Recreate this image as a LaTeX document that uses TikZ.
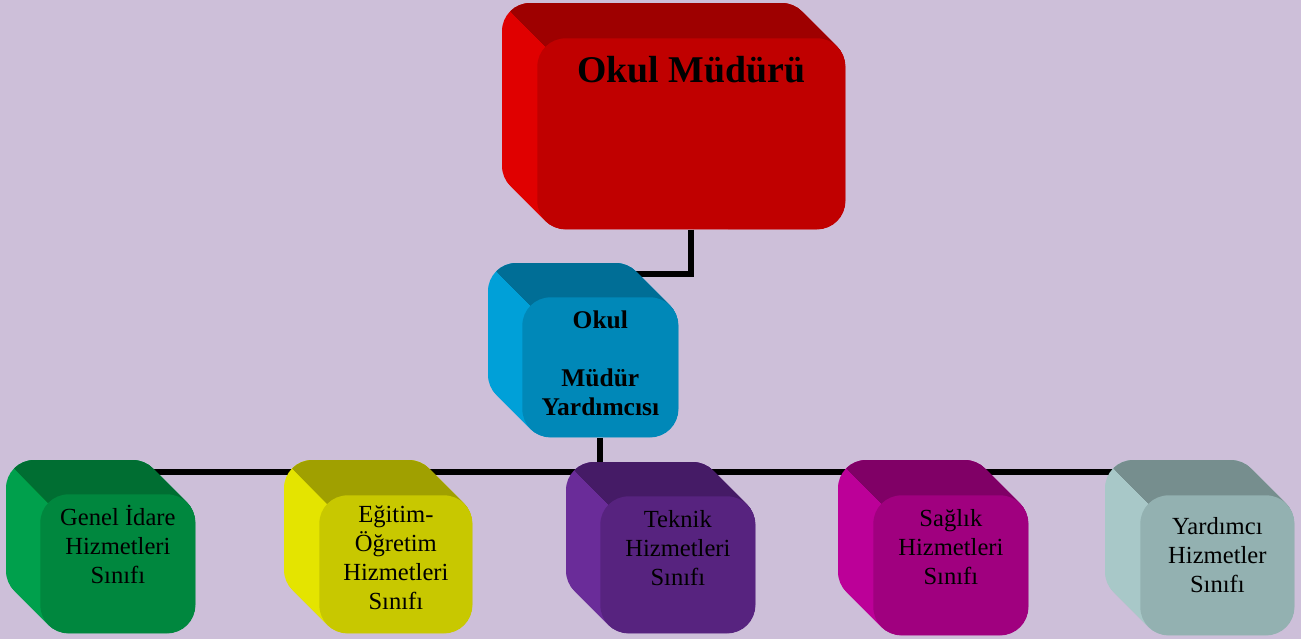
\documentclass[tikz,border=0pt]{standalone}
\usepackage{fontspec}
\setmainfont{Liberation Serif}
\usepackage{xcolor}
\usepackage{tikz}

\definecolor{zemin}{HTML}{CDBFD9}
\definecolor{kirmiziacik}{HTML}{E00000}
\definecolor{kirmizikoyu}{HTML}{9E0000}
\definecolor{kirmizion}{HTML}{C00000}
\definecolor{maviacik}{HTML}{00A0D8}
\definecolor{mavikoyu}{HTML}{006E96}
\definecolor{mavion}{HTML}{0088B8}
\definecolor{yesilacik}{HTML}{00A04C}
\definecolor{yesilkoyu}{HTML}{006E32}
\definecolor{yesilon}{HTML}{00873E}
\definecolor{sariacik}{HTML}{E4E400}
\definecolor{sarikoyu}{HTML}{A0A000}
\definecolor{sarion}{HTML}{C8C800}
\definecolor{moracik}{HTML}{6A2C99}
\definecolor{morkoyu}{HTML}{451B66}
\definecolor{moron}{HTML}{57237F}
\definecolor{pembeacik}{HTML}{BC0098}
\definecolor{pembekoyu}{HTML}{800066}
\definecolor{pembeon}{HTML}{A0007F}
\definecolor{griacik}{HTML}{A8C8C8}
\definecolor{grikoyu}{HTML}{768E8E}
\definecolor{grion}{HTML}{93B1B1}

\pgfdeclarelayer{arka}
\pgfdeclarelayer{hatlar}
\pgfsetlayers{arka,hatlar,main}

\tikzset{
  yuz/.style={rounded corners=16pt, inner sep=0pt},
  yazi/.style={align=center, inner sep=0pt, text=black},
  altyazi/.style={yazi, font=\fontsize{14}{16.5}\selectfont, anchor=north},
  baglanti/.style={line width=3.4pt, black},
}

% #1 ad, #2 #3 sol ust, #4 #5 sag alt, #6 derinlik, #7 renk
\newcommand{\kutu}[7]{%
  \foreach \k in {0,...,#6}
    \fill[#7acik, rounded corners=16pt] (#2+\k,#3+\k) rectangle (#4-#6+\k,#5-#6+\k);
  \begin{scope}
    \clip (#2-50,#3-50) -- (#4+50,#3-50) -- (#4+50,#3+#4-#2+50) -- cycle;
    \foreach \k in {0,...,#6}
      \fill[#7koyu, rounded corners=16pt] (#2+\k,#3+\k) rectangle (#4-#6+\k,#5-#6+\k);
  \end{scope}
  \node[yuz, fill=#7on, anchor=north west,
    minimum width={(#4-#2-#6)*0.02cm}, minimum height={(#5-#3-#6)*0.02cm}]
    (#1) at (#2+#6,#3+#6) {};
}

\begin{document}
\begin{tikzpicture}[x=0.02cm, y=-0.02cm]
\useasboundingbox (0,0) rectangle (1301,639);

\begin{pgfonlayer}{arka}
\fill[zemin] (0,0) rectangle (1301,639);
\end{pgfonlayer}

\kutu{mudur}{502}{3}{845}{229}{35}{kirmizi}
\node[yazi, font=\bfseries\fontsize{21.5}{25}\selectfont, anchor=base] (mudur-y)
  at ([yshift=-25.6pt]mudur.north) {Okul Müdürü};

\kutu{yardimci}{488}{263}{678}{437}{34}{mavi}
\node[yazi, font=\bfseries\fontsize{14.5}{16.5}\selectfont, anchor=north] (yardimci-y)
  at ([yshift=-7.4pt]yardimci.north) {Okul\\[16.5pt]Müdür\\Yardımcısı};

\kutu{genel}{6}{460}{195}{633}{34}{yesil}
\node[altyazi] (genel-y) at ([yshift=-6.3pt]genel.north) {Genel İdare\\Hizmetleri\\Sınıfı};

\kutu{egitim}{284}{460}{472}{633}{35}{sari}
\node[altyazi] (egitim-y) at ([yshift=-5.7pt]egitim.north) {Eğitim-\\Öğretim\\Hizmetleri\\Sınıfı};

\kutu{teknik}{566}{462}{755}{633}{34}{mor}
\node[altyazi] (teknik-y) at ([yshift=-8pt]teknik.north) {Teknik\\Hizmetleri\\Sınıfı};

\kutu{saglik}{838}{460}{1028}{635}{35}{pembe}
\node[altyazi] (saglik-y) at ([yshift=-8pt]saglik.north) {Sağlık\\Hizmetleri\\Sınıfı};

\kutu{yrdhiz}{1105}{460}{1294}{635}{35}{gri}
\node[altyazi] (yrdhiz-y) at ([yshift=-12.5pt]yrdhiz.north) {Yardımcı\\Hizmetler\\Sınıfı};

\begin{pgfonlayer}{hatlar}
\draw[baglanti] (mudur.south) |- ([yshift=13pt]yardimci.north);
\draw[baglanti] (yardimci.south) -- (yardimci.south |- genel.north);
\draw[baglanti] ([yshift=12.5pt]genel.north) -- ([yshift=12.5pt]genel.north -| yrdhiz.north);
\end{pgfonlayer}

\end{tikzpicture}
\end{document}
